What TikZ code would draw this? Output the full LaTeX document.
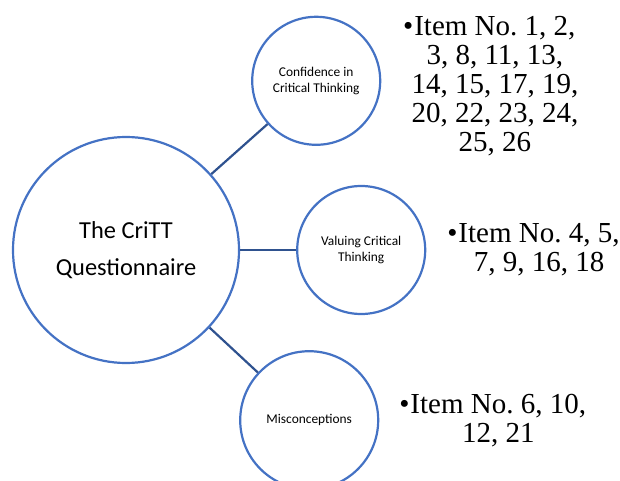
\documentclass[tikz,border=0pt]{standalone}
\usepackage{fontspec}
\setmainfont{Liberation Serif}
\newfontfamily\calibri{Carlito}
\usetikzlibrary{positioning}
\definecolor{circblue}{HTML}{4472C4}
\definecolor{linkblue}{HTML}{2F528F}
\frenchspacing

\begin{document}
\begin{tikzpicture}[
	x=1pt,y=-1pt,
	bigcircle/.style={
		circle,
		draw=circblue,
		line width=2.2pt,
		inner sep=0pt,
		minimum size=226pt,
		align=center,
		font=\calibri\fontsize{24.4}{37}\selectfont},
	smallcircle/.style={
		circle,
		draw=circblue,
		line width=2.2pt,
		inner sep=0pt,
		minimum size=128pt,
		align=center,
		font=\calibri\fontsize{13.4}{15.5}\selectfont},
	itemtext/.style={
		align=center,
		inner sep=0pt,
		font=\fontsize{29}{29}\selectfont},
	link/.style={draw=linkblue,line width=2.2pt},
	node distance=39pt and 30pt
	]
	\useasboundingbox (0,0) rectangle (620,481);
	\node[bigcircle] (cQ) at (126,250) {The CriTT\\Questionnaire};
	\node[smallcircle,right=56pt of cQ] (cV) {Valuing Critical\\Thinking};
	\node[smallcircle,above=39pt of cV,xshift=-45pt] (cC) {Confidence in\\Critical Thinking};
	\node[smallcircle,below=35pt of cV,xshift=-52pt,minimum size=138pt] (cM) {Misconceptions};
	
	\node[itemtext,right=30pt of cC,yshift=-5pt] (tC) {\llap{\textbullet\hspace{1pt}}Item No.\ 1, 2,\\3, 8, 11, 13,\\14, 15, 17, 19,\\20, 22, 23, 24,\\25, 26};
	\node[itemtext,right=32pt of cV] (tV) {\llap{\textbullet\hspace{1pt}}Item No.\ 4, 5,\\7, 9, 16, 18};
	\node[itemtext,right=31pt of cM] (tM) {\llap{\textbullet\hspace{1pt}}Item No.\ 6, 10,\\12, 21};
	
	\foreach \i in {cC,cV,cM}% links from the centre
	\draw[link] (cQ) -- (\i);
\end{tikzpicture}
\end{document}
